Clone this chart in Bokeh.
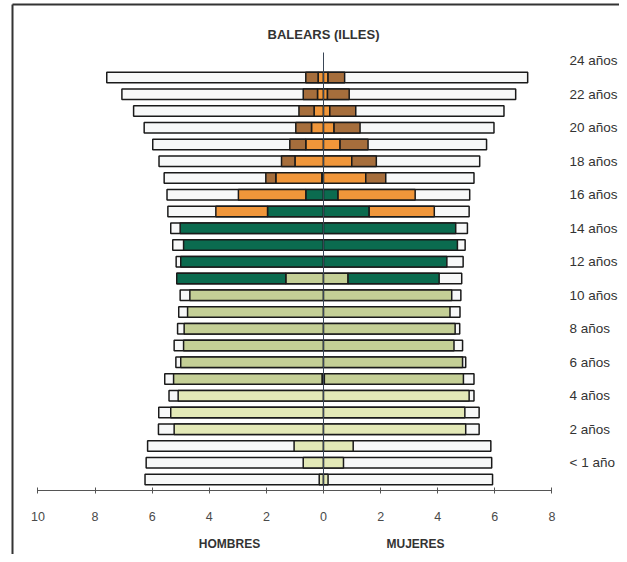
from bokeh.plotting import figure
from bokeh.models import LinearAxis, FixedTicker, ColumnDataSource
from bokeh.core.properties import value
from bokeh.embed import file_html
from bokeh.resources import INLINE

# ---------------- data ----------------
title = "BALEARS (ILLES)"
ages = list(range(25))
age_labels = ["< 1 año", "2 años", "4 años", "6 años", "8 años", "10 años", "12 años",
              "14 años", "16 años", "18 años", "20 años", "22 años", "24 años"]
sex_labels = ["HOMBRES", "MUJERES"]
tick_vals = [-10, -8, -6, -4, -2, 0, 2, 4, 6, 8]
tick_text = ["10", "8", "6", "4", "2", "0", "2", "4", "6", "8"]

men_total = [6.25, 6.21, 6.16, 5.78, 5.77, 5.41, 5.56, 5.17, 5.23, 5.11, 5.07, 5.02, 5.14,
             5.16, 5.28, 5.35, 5.45, 5.48, 5.58, 5.76, 5.98, 6.28, 6.65, 7.06, 7.59]
women_total = [5.92, 5.89, 5.86, 5.45, 5.45, 5.27, 5.27, 4.98, 4.87, 4.77, 4.78, 4.81, 4.84,
               4.89, 4.96, 5.04, 5.10, 5.12, 5.27, 5.47, 5.71, 5.97, 6.32, 6.73, 7.15]

men_infantil = [0.15, 0.71, 1.03, 5.23, 5.35, 5.09, 0.05] + [0] * 18
women_infantil = [0.16, 0.70, 1.04, 4.98, 4.95, 5.10, 0.03] + [0] * 18
men_primaria = [0] * 6 + [5.20, 5.00, 4.90, 4.88, 4.76, 4.68, 1.32] + [0] * 12
women_primaria = [0] * 6 + [4.87, 4.87, 4.57, 4.61, 4.43, 4.49, 0.86] + [0] * 12
men_eso = [0] * 12 + [3.82, 5.00, 4.90, 5.02, 1.96, 0.62, 0.06] + [0] * 6
women_eso = [0] * 12 + [3.19, 4.32, 4.69, 4.63, 1.60, 0.51, 0.0] + [0] * 6
men_post = [0] * 16 + [1.81, 2.36, 1.61, 1.00, 0.62, 0.42, 0.33, 0.21, 0.19]
women_post = [0] * 16 + [2.28, 2.70, 1.48, 0.99, 0.58, 0.37, 0.22, 0.14, 0.16]
men_univ = [0] * 18 + [0.35, 0.47, 0.56, 0.55, 0.53, 0.50, 0.43]
women_univ = [0] * 18 + [0.70, 0.86, 0.98, 0.91, 0.91, 0.76, 0.58]

stage_colors = ["#e3e9b7", "#c4cf96", "#0b6b4f", "#f0963a", "#a66e3c"]
total_color = "#f7f8f8"

# ---------------- geometry (image px -> data) ----------------
X0, PXU = 323.0, 28.556   # image x of 0, px per unit
Y0, PYU = 479.0, 16.75    # image y of row 0, px per row
W, H = 619, 554
def dx(px): return (px - X0) / PXU
def dy(py): return (Y0 - py) / PYU

p = figure(width=W, height=H, output_backend="svg", toolbar_location=None,
           x_range=(dx(0), dx(W)), y_range=(dy(H), dy(0)),
           x_axis_type=None, y_axis_type=None, title=None)
p.min_border = 0
p.min_border_left = p.min_border_right = p.min_border_top = p.min_border_bottom = 0
p.outline_line_color = None
p.background_fill_color = "white"
p.border_fill_color = "white"
p.grid.visible = False

# frame lines of the original page
p.segment(x0=[dx(12), dx(12)], y0=[dy(4), dy(4)], x1=[dx(12), dx(W)], y1=[dy(H), dy(4)],
          line_color="#333333", line_width=2)

BH = 0.62
# totals
p.hbar(y=ages, left=[-v for v in men_total], right=0, height=BH,
       fill_color=total_color, line_color="#1a1a1a", line_width=1.5)
p.hbar(y=ages, left=0, right=women_total, height=BH,
       fill_color=total_color, line_color="#1a1a1a", line_width=1.5)

# stacked stages from the centre outward
men_st = [men_infantil, men_primaria, men_eso, men_post, men_univ]
women_st = [women_infantil, women_primaria, women_eso, women_post, women_univ]
seg = dict(y=[], left=[], right=[], color=[])
for stages, sign in ((men_st, -1), (women_st, 1)):
    for i in ages:
        cum = 0.0
        for k, st in enumerate(stages):
            v = st[i]
            if v > 0:
                a, b = sign * cum, sign * (cum + v)
                seg["y"].append(i)
                seg["left"].append(min(a, b))
                seg["right"].append(max(a, b))
                seg["color"].append(stage_colors[k])
                cum += v
src = ColumnDataSource(seg)
p.hbar(y="y", left="left", right="right", height=BH, source=src,
       fill_color="color", line_color="#1a1a1a", line_width=1.5)

# centre line
p.segment(x0=[0], y0=[dy(490)], x1=[0], y1=[dy(52)], line_color="#3a4656", line_width=1)

# x axis
xax = LinearAxis(fixed_location=dy(490), bounds=(tick_vals[0], tick_vals[-1]),
                 ticker=FixedTicker(ticks=tick_vals),
                 major_label_overrides={t: s for t, s in zip(tick_vals, tick_text)})
xax.axis_line_color = "#555555"
xax.axis_line_width = 1
xax.major_tick_line_color = "#555555"
xax.major_tick_in = 3
xax.major_tick_out = 3
xax.minor_tick_line_color = None
xax.major_label_standoff = 18
xax.major_label_text_font = "Liberation Sans"
xax.major_label_text_font_size = "12.5px"
xax.major_label_text_color = "#4a4a4a"
p.add_layout(xax, "below")

FONT = value("Liberation Sans")
# title
p.text(x=[0], y=[dy(34)], text=[title], text_font=FONT, text_font_style="bold",
       text_font_size="13px", text_align="center", text_baseline="middle", text_color="#333333")
# age labels (right side)
p.text(x=[dx(569)] * len(age_labels), y=[2 * i + 1 for i in range(len(age_labels))],
       text=age_labels, text_font=FONT, text_font_size="13.5px",
       text_align="left", text_baseline="middle", text_color="#333333")
# sex labels
p.text(x=[dx(229), dx(415)], y=[dy(543)] * 2, text=sex_labels, text_font=FONT,
       text_font_style="bold", text_font_size="12px", text_align="center",
       text_baseline="middle", text_color="#333333")

open("out.html", "w").write(file_html(p, INLINE))
